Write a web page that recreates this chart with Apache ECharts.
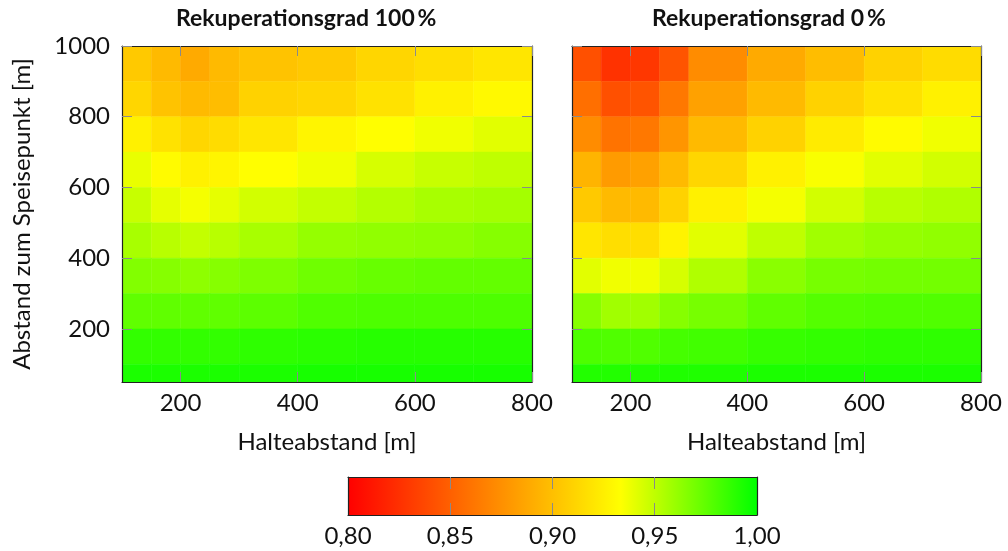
<!DOCTYPE html>
<html>
<head>
<meta charset="utf-8">
<script src="https://cdn.jsdelivr.net/npm/echarts@6/dist/echarts.min.js"></script>
<style>
html,body{margin:0;padding:0;background:#fff;}
#chart{width:1008px;height:551px;}
</style>
</head>
<body>
<div id="chart"></div>
<script>
// ---- data ----
const xEdges = [100, 150, 200, 250, 300, 400, 500, 600, 700, 800];           // Halteabstand [m]
const yEdges = [50, 100, 200, 300, 400, 500, 600, 700, 800, 900, 1000];     // Abstand zum Speisepunkt [m]
const xTicks = [200, 400, 600, 800];
const yTicks = [200, 400, 600, 800, 1000];
const titles = ['Rekuperationsgrad 100\u2009%', 'Rekuperationsgrad 0\u2009%'];
// rows listed from the top row (900-1000 m) down to the bottom row (50-100 m)
const eta100 = [
  [0.905, 0.897, 0.889, 0.897, 0.902, 0.905, 0.912, 0.916, 0.920],
  [0.912, 0.902, 0.897, 0.899, 0.910, 0.912, 0.918, 0.926, 0.930],
  [0.926, 0.918, 0.912, 0.915, 0.920, 0.928, 0.933, 0.937, 0.941],
  [0.939, 0.931, 0.926, 0.928, 0.933, 0.937, 0.944, 0.948, 0.950],
  [0.948, 0.940, 0.936, 0.940, 0.945, 0.949, 0.953, 0.956, 0.957],
  [0.956, 0.952, 0.949, 0.952, 0.956, 0.961, 0.962, 0.963, 0.965],
  [0.966, 0.965, 0.963, 0.965, 0.967, 0.971, 0.973, 0.974, 0.974],
  [0.975, 0.975, 0.975, 0.975, 0.976, 0.979, 0.980, 0.980, 0.980],
  [0.987, 0.987, 0.987, 0.987, 0.988, 0.989, 0.990, 0.990, 0.990],
  [0.993, 0.993, 0.993, 0.993, 0.993, 0.994, 0.994, 0.994, 0.994]
];
const eta0 = [
  [0.842, 0.826, 0.829, 0.844, 0.873, 0.889, 0.899, 0.910, 0.915],
  [0.858, 0.842, 0.844, 0.863, 0.884, 0.897, 0.910, 0.918, 0.926],
  [0.873, 0.860, 0.863, 0.878, 0.897, 0.910, 0.923, 0.931, 0.937],
  [0.894, 0.881, 0.884, 0.897, 0.912, 0.926, 0.935, 0.941, 0.945],
  [0.905, 0.897, 0.897, 0.910, 0.926, 0.936, 0.945, 0.952, 0.954],
  [0.920, 0.916, 0.916, 0.927, 0.941, 0.950, 0.958, 0.961, 0.962],
  [0.941, 0.937, 0.937, 0.944, 0.954, 0.964, 0.969, 0.970, 0.970],
  [0.965, 0.958, 0.958, 0.965, 0.969, 0.975, 0.978, 0.979, 0.979],
  [0.980, 0.979, 0.979, 0.982, 0.983, 0.986, 0.987, 0.988, 0.988],
  [0.991, 0.991, 0.991, 0.992, 0.992, 0.993, 0.993, 0.993, 0.993]
];
const cbMin = 0.80, cbMax = 1.00, cbStep = 0.05;
const cbTicks = [0.85, 0.90, 0.95];

// ---- colormap: red -> yellow (at 2/3) -> green ----
function cmap(v) {
  let t = (v - cbMin) / (cbMax - cbMin);
  t = Math.max(0, Math.min(1, t));
  let r, g;
  if (t <= 2 / 3) { r = 255; g = Math.round(255 * t * 1.5); }
  else { r = Math.round(255 * (1 - t) * 3); g = 255; }
  return 'rgb(' + r + ',' + g + ',0)';
}

function cells(mat) {
  const out = [];
  const nRows = yEdges.length - 1;
  mat.forEach((row, i) => {
    const yi = nRows - 1 - i;
    row.forEach((v, j) => {
      out.push([xEdges[j], xEdges[j + 1], yEdges[yi], yEdges[yi + 1], v]);
    });
  });
  return out;
}

function renderCell(params, api) {
  const p0 = api.coord([api.value(0), api.value(3)]);
  const p1 = api.coord([api.value(1), api.value(2)]);
  const c = cmap(api.value(4));
  return {
    type: 'rect',
    shape: { x: p0[0], y: p0[1], width: p1[0] - p0[0], height: p1[1] - p0[1] },
    style: { fill: c, stroke: c, lineWidth: 0.5 }
  };
}

const FONT = 'Lato';
const tickTxt = { fontFamily: FONT, fontSize: 24, color: '#111' };
const nameTxt = { fontFamily: FONT, fontSize: 24, color: '#111' };
const lineC = '#222';
const tickC = '#8a8a8a';

function xAx(grid, pos, withLabels) {
  return {
    gridIndex: grid, type: 'value', min: xEdges[0], max: xEdges[xEdges.length - 1],
    position: pos, z: 10,
    axisLine: { show: true, onZero: false, lineStyle: { color: lineC, width: 1.2 } },
    axisTick: { show: true, inside: true, length: 10, customValues: xTicks, lineStyle: { color: tickC, width: 1 } },
    axisLabel: withLabels ? Object.assign({ show: true, customValues: xTicks, margin: 9, formatter: v => String(v) }, tickTxt) : { show: false },
    splitLine: { show: false },
    name: withLabels ? 'Halteabstand [m]' : '',
    nameLocation: 'middle', nameGap: 48,
    nameTextStyle: nameTxt
  };
}
function yAx(grid, pos, withLabels, withName) {
  return {
    gridIndex: grid, type: 'value', min: yEdges[0], max: yEdges[yEdges.length - 1],
    position: pos, z: 10,
    axisLine: { show: true, onZero: false, lineStyle: { color: lineC, width: 1.2 } },
    axisTick: { show: true, inside: true, length: 10, customValues: yTicks, lineStyle: { color: tickC, width: 1 } },
    axisLabel: withLabels ? Object.assign({ show: true, customValues: yTicks, margin: 12, formatter: v => String(v) }, tickTxt) : { show: false },
    splitLine: { show: false },
    name: withName ? 'Abstand zum Speisepunkt [m]' : '',
    nameLocation: 'middle', nameGap: 88,
    nameTextStyle: nameTxt
  };
}

const option = {
  backgroundColor: '#fff',
  animation: false,
  title: [
    { text: titles[0], left: 176, top: 7, padding: 0, textStyle: { fontFamily: FONT, fontSize: 23, fontWeight: 'bold', color: '#111' } },
    { text: titles[1], left: 652, top: 7, padding: 0, textStyle: { fontFamily: FONT, fontSize: 23, fontWeight: 'bold', color: '#111' } }
  ],
  grid: [
    { left: 122, top: 46, width: 410, height: 336 },
    { left: 572, top: 46, width: 409, height: 336 },
    { left: 348, top: 477, width: 409, height: 38 }
  ],
  xAxis: [
    xAx(0, 'bottom', true), xAx(0, 'top', false),
    xAx(1, 'bottom', true), xAx(1, 'top', false),
    {
      gridIndex: 2, type: 'value', min: cbMin, max: cbMax, interval: cbStep, position: 'bottom', z: 10,
      axisLine: { show: true, onZero: false, lineStyle: { color: lineC, width: 1.2 } },
      axisTick: { show: true, inside: true, length: 12, customValues: cbTicks, lineStyle: { color: tickC } },
      axisLabel: Object.assign({ margin: 9, formatter: v => v.toFixed(2).replace('.', ',') }, tickTxt),
      splitLine: { show: false }
    },
    {
      gridIndex: 2, type: 'value', min: cbMin, max: cbMax, interval: cbStep, position: 'top', z: 10,
      axisLine: { show: true, onZero: false, lineStyle: { color: lineC, width: 1.2 } },
      axisTick: { show: true, inside: true, length: 12, customValues: cbTicks, lineStyle: { color: tickC } },
      axisLabel: { show: false },
      splitLine: { show: false }
    }
  ],
  yAxis: [
    yAx(0, 'left', true, true), yAx(0, 'right', false, false),
    yAx(1, 'left', false, false), yAx(1, 'right', false, false),
    { gridIndex: 2, type: 'value', min: 0, max: 1, position: 'left', z: 10,
      axisLine: { show: true, onZero: false, lineStyle: { color: lineC, width: 1.2 } },
      axisTick: { show: false }, axisLabel: { show: false }, splitLine: { show: false } },
    { gridIndex: 2, type: 'value', min: 0, max: 1, position: 'right', z: 10,
      axisLine: { show: true, onZero: false, lineStyle: { color: lineC, width: 1.2 } },
      axisTick: { show: false }, axisLabel: { show: false }, splitLine: { show: false } }
  ],
  series: [
    { type: 'custom', xAxisIndex: 0, yAxisIndex: 0, z: 1, renderItem: renderCell, data: cells(eta100), clip: true, silent: true },
    { type: 'custom', xAxisIndex: 2, yAxisIndex: 2, z: 1, renderItem: renderCell, data: cells(eta0), clip: true, silent: true },
    {
      type: 'custom', xAxisIndex: 4, yAxisIndex: 4, z: 1, silent: true,
      data: [[cbMin, cbMax]],
      renderItem: function (params, api) {
        const p0 = api.coord([api.value(0), 1]);
        const p1 = api.coord([api.value(1), 0]);
        return {
          type: 'rect',
          shape: { x: p0[0], y: p0[1], width: p1[0] - p0[0], height: p1[1] - p0[1] },
          style: {
            fill: new echarts.graphic.LinearGradient(0, 0, 1, 0, [
              { offset: 0, color: cmap(cbMin) },
              { offset: 1 / 3, color: cmap(cbMin + (cbMax - cbMin) / 3) },
              { offset: 2 / 3, color: cmap(cbMin + 2 * (cbMax - cbMin) / 3) },
              { offset: 1, color: cmap(cbMax) }
            ])
          }
        };
      }
    }
  ]
};

const chart = echarts.init(document.getElementById('chart'), null, { renderer: 'canvas' });
chart.setOption(option);
</script>
</body>
</html>
